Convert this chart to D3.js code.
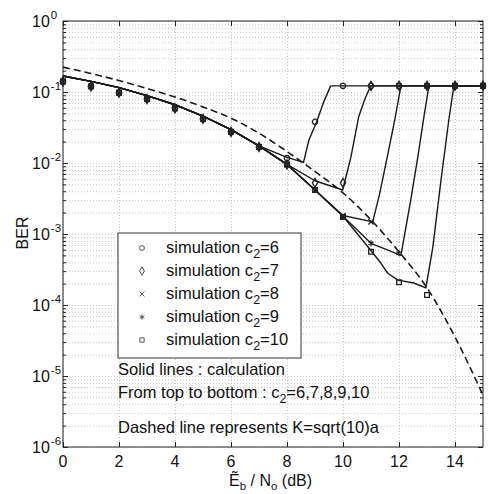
<!DOCTYPE html>
<html>
<head>
<meta charset="utf-8">
<script src="https://cdn.jsdelivr.net/npm/d3@7"></script>
<style>
    body { margin: 0; background: #fff; }
    svg text { font-family: "Liberation Sans", Arial, sans-serif; fill: #111; }
    .grid line { stroke: #b8b8b8; stroke-dasharray: 1, 2; stroke-width: 0.8; }
    .grid path { display: none; }
    .ticks line { stroke: #222; }
    .ticks path { display: none; }
</style>
</head>
<body>
<svg width="493" height="494"></svg>
<script>
// x tick labels and y decades
const xTicks = [0, 2, 4, 6, 8, 10, 12, 14];
const yTickExps = [0, -1, -2, -3, -4, -5, -6];

// simulation points (every dB)
const simSnr = [0, 1, 2, 3, 4, 5, 6, 7, 8, 9, 10, 11, 12, 13, 14, 15];
const simC6 = [0.141, 0.120, 0.0977, 0.0794, 0.0589, 0.0417, 0.0275, 0.0168, 0.0117, 0.038, 0.122, 0.122, 0.122, 0.122, 0.122, 0.122];
const simC7 = [0.141, 0.120, 0.0977, 0.0794, 0.0589, 0.0417, 0.0275, 0.0168, 0.00955, 0.00525, 0.00525, 0.122, 0.122, 0.122, 0.122, 0.122];
const simC8 = [0.141, 0.120, 0.0977, 0.0794, 0.0589, 0.0417, 0.0275, 0.0168, 0.00955, 0.00417, 0.00182, 0.00148, 0.122, 0.122, 0.122, 0.122];
const simC9 = [0.141, 0.120, 0.0977, 0.0794, 0.0589, 0.0417, 0.0275, 0.0168, 0.00955, 0.00417, 0.00174, 0.00074, 0.000537, 0.122, 0.122, 0.122];
const simC10 = [0.141, 0.120, 0.0977, 0.0794, 0.0589, 0.0417, 0.0275, 0.0168, 0.00955, 0.00417, 0.00174, 0.000562, 0.000209, 0.000138, 0.122, 0.122];

// calculation curves
const calcC6Snr = [0, 1, 2, 3, 4, 5, 6, 7, 8, 8.59, 8.78, 9.06, 9.3, 9.56, 15];
const calcC6Ber = [0.168, 0.141, 0.115, 0.0891, 0.0661, 0.0457, 0.0295, 0.0174, 0.0120, 0.0102, 0.0209, 0.038, 0.0708, 0.122, 0.122];
const calcC7Snr = [0, 1, 2, 3, 4, 5, 6, 7, 8, 9, 9.99, 10.28, 10.56, 10.8, 10.99, 15];
const calcC7Ber = [0.168, 0.141, 0.115, 0.0891, 0.0661, 0.0457, 0.0295, 0.0174, 0.00955, 0.00562, 0.00417, 0.0120, 0.0447, 0.0832, 0.122, 0.122];
const calcC8Snr = [0, 1, 2, 3, 4, 5, 6, 7, 8, 9, 10, 11.06, 11.3, 11.6, 11.85, 12.07, 15];
const calcC8Ber = [0.168, 0.141, 0.115, 0.0891, 0.0661, 0.0457, 0.0295, 0.0174, 0.00955, 0.00417, 0.00182, 0.00148, 0.00355, 0.0132, 0.0407, 0.122, 0.122];
const calcC9Snr = [0, 1, 2, 3, 4, 5, 6, 7, 8, 9, 10, 11, 12.07, 12.42, 12.67, 12.89, 13.07, 15];
const calcC9Ber = [0.168, 0.141, 0.115, 0.0891, 0.0661, 0.0457, 0.0295, 0.0174, 0.00955, 0.00417, 0.00178, 0.00074, 0.0005, 0.00302, 0.012, 0.0447, 0.122, 0.122];
const calcC10Snr = [0, 1, 2, 3, 4, 5, 6, 7, 8, 9, 10, 10.99, 11.35, 11.6, 11.96, 12.53, 12.96, 13.21, 13.5, 13.78, 13.96, 15];
const calcC10Ber = [0.168, 0.141, 0.115, 0.0891, 0.0661, 0.0457, 0.0295, 0.0174, 0.00955, 0.00417, 0.00178, 0.00059, 0.00039, 0.00028, 0.000224, 0.000204, 0.000174, 0.00066, 0.00575, 0.0407, 0.122, 0.122];

// dashed reference, K=sqrt(10)a
const dashSnr = [0, 1, 2, 3, 4, 5, 6, 7, 8, 9, 10, 11, 12, 13, 14, 15];
const dashBer = [0.224, 0.182, 0.145, 0.112, 0.0851, 0.0617, 0.0427, 0.0263, 0.0145, 0.00759, 0.0038, 0.00158, 5.62e-4, 1.74e-4, 3.55e-5, 5.37e-6];

const c2Labels = ['6', '7', '8', '9', '10'];

const svg = d3.select('svg');

const plotLeft = 63, plotRight = 483, plotTop = 21, plotBottom = 447;

const xScale = d3.scaleLinear()
    .domain([0, 15])
    .range([plotLeft, plotRight]);

const yScale = d3.scaleLog()
    .domain([1e-6, 1])
    .range([plotBottom, plotTop]);

const yMajor = yTickExps.map((e) => Math.pow(10, e));
const yMinor = [];
yTickExps.slice(0, -1).forEach((e) => {
    for (let m = 2; m <= 9; m++) yMinor.push(m * Math.pow(10, e - 1));
});

svg.append('rect')
    .attr('width', 493).attr('height', 494).attr('fill', '#fff');

// grid lines
svg.append('g')
    .attr('class', 'grid')
    .attr('transform', `translate(0, ${plotBottom})`)
    .call(d3.axisBottom(xScale)
        .tickValues(xTicks)
        .tickSize(-(plotBottom - plotTop))
        .tickFormat(''));

svg.append('g')
    .attr('class', 'grid')
    .attr('transform', `translate(${plotLeft}, 0)`)
    .call(d3.axisLeft(yScale)
        .tickValues(yMajor.concat(yMinor))
        .tickSize(-(plotRight - plotLeft))
        .tickFormat(''));

const line = d3.line()
    .x((d) => xScale(d[0]))
    .y((d) => yScale(d[1]));

// dashed line
svg.append('path')
    .datum(d3.zip(dashSnr, dashBer))
    .attr('fill', 'none')
    .attr('stroke', '#1a1a1a')
    .attr('stroke-width', 1.6)
    .attr('stroke-dasharray', '7,4')
    .attr('d', line.curve(d3.curveMonotoneX));

line.curve(d3.curveLinear);

const series = [
    { sim: simC6, x: calcC6Snr, y: calcC6Ber, symbol: d3.symbolCircle, size: 22 },
    { sim: simC7, x: calcC7Snr, y: calcC7Ber, symbol: d3.symbolDiamond, size: 24 },
    { sim: simC8, x: calcC8Snr, y: calcC8Ber, symbol: d3.symbolTimes, size: 20 },
    { sim: simC9, x: calcC9Snr, y: calcC9Ber, symbol: d3.symbolAsterisk, size: 24 },
    { sim: simC10, x: calcC10Snr, y: calcC10Ber, symbol: d3.symbolSquare, size: 22 }
];

series.forEach((s) => {
    svg.append('path')
        .datum(d3.zip(s.x, s.y))
        .attr('fill', 'none')
        .attr('stroke', '#1a1a1a')
        .attr('stroke-width', 1.4)
        .attr('stroke-linejoin', 'round')
        .attr('d', line);
});

series.forEach((s) => {
    svg.append('g')
        .selectAll('path')
        .data(d3.zip(simSnr, s.sim))
        .enter()
        .append('path')
        .attr('transform', (d) => `translate(${xScale(d[0])}, ${yScale(d[1])})`)
        .attr('d', d3.symbol().type(s.symbol).size(s.size))
        .attr('fill', 'none')
        .attr('stroke', '#222')
        .attr('stroke-width', 1.3);
});

// inward ticks on all four sides
const tickGroup = (axis, tx, ty) => svg.append('g')
    .attr('class', 'ticks')
    .attr('transform', `translate(${tx}, ${ty})`)
    .call(axis.tickFormat(''));

tickGroup(d3.axisBottom(xScale).tickValues(xTicks).tickSizeInner(-5).tickSizeOuter(0), 0, plotBottom);
tickGroup(d3.axisTop(xScale).tickValues(xTicks).tickSizeInner(-5).tickSizeOuter(0), 0, plotTop);
tickGroup(d3.axisLeft(yScale).tickValues(yMajor).tickSizeInner(-5).tickSizeOuter(0), plotLeft, 0);
tickGroup(d3.axisLeft(yScale).tickValues(yMinor).tickSizeInner(-3).tickSizeOuter(0), plotLeft, 0);
tickGroup(d3.axisRight(yScale).tickValues(yMajor).tickSizeInner(-5).tickSizeOuter(0), plotRight, 0);
tickGroup(d3.axisRight(yScale).tickValues(yMinor).tickSizeInner(-3).tickSizeOuter(0), plotRight, 0);

svg.append('rect')
    .attr('x', plotLeft).attr('y', plotTop)
    .attr('width', plotRight - plotLeft).attr('height', plotBottom - plotTop)
    .attr('fill', 'none')
    .attr('stroke', '#222')
    .attr('stroke-width', 1);

// x tick labels
svg.append('g')
    .selectAll('text')
    .data(xTicks)
    .enter()
    .append('text')
    .attr('x', (d) => xScale(d))
    .attr('y', 467)
    .attr('text-anchor', 'middle')
    .attr('font-size', 16)
    .text((d) => d);

// y tick labels 10^n
const yLabels = svg.append('g')
    .selectAll('text')
    .data(yTickExps)
    .enter()
    .append('text')
    .attr('x', 32)
    .attr('y', (d) => yScale(Math.pow(10, d)) + 6)
    .attr('font-size', 16);
yLabels.append('tspan').text('10');
yLabels.append('tspan')
    .attr('dy', -8)
    .attr('dx', 1)
    .attr('font-size', 11.5)
    .text((d) => d);

// axis titles
svg.append('text')
    .attr('transform', 'translate(28, 233) rotate(-90)')
    .attr('text-anchor', 'middle')
    .attr('font-size', 16)
    .text('BER');

const xTitle = svg.append('text')
    .attr('x', 229)
    .attr('y', 486)
    .attr('font-size', 16);
xTitle.append('tspan').text('\u1EBC');
xTitle.append('tspan').attr('dy', 4).attr('font-size', 11.5).text('b');
xTitle.append('tspan').attr('dy', -4).text(' / N');
xTitle.append('tspan').attr('dy', 4).attr('font-size', 11.5).text('o');
xTitle.append('tspan').attr('dy', -4).text(' (dB)');

// legend
const legend = svg.append('g');
legend.append('rect')
    .attr('x', 118).attr('y', 233)
    .attr('width', 183).attr('height', 125)
    .attr('fill', '#fff')
    .attr('stroke', '#333')
    .attr('stroke-width', 1);

series.forEach((s, i) => {
    const yBase = 253 + i * 23;
    legend.append('path')
        .attr('transform', `translate(142, ${yBase - 5})`)
        .attr('d', d3.symbol().type(s.symbol).size(s.size * 0.85))
        .attr('fill', 'none')
        .attr('stroke', '#555')
        .attr('stroke-width', 1);
    const t = legend.append('text')
        .attr('x', 166)
        .attr('y', yBase)
        .attr('font-size', 16.5);
    t.append('tspan').text('simulation c');
    t.append('tspan').attr('dy', 5).attr('font-size', 12.5).text('2');
    t.append('tspan').attr('dy', -5).text('=' + c2Labels[i]);
});

// notes
svg.append('text')
    .attr('x', 118).attr('y', 375)
    .attr('font-size', 16.5)
    .text('Solid lines : calculation');

const note2 = svg.append('text')
    .attr('x', 118).attr('y', 398)
    .attr('font-size', 16.5);
note2.append('tspan').text('From top to bottom : c');
note2.append('tspan').attr('dy', 5).attr('font-size', 12.5).text('2');
note2.append('tspan').attr('dy', -5).text('=' + c2Labels.join(','));

svg.append('text')
    .attr('x', 118).attr('y', 433)
    .attr('font-size', 16.5)
    .text('Dashed line represents K=sqrt(10)a');
</script>
</body>
</html>
